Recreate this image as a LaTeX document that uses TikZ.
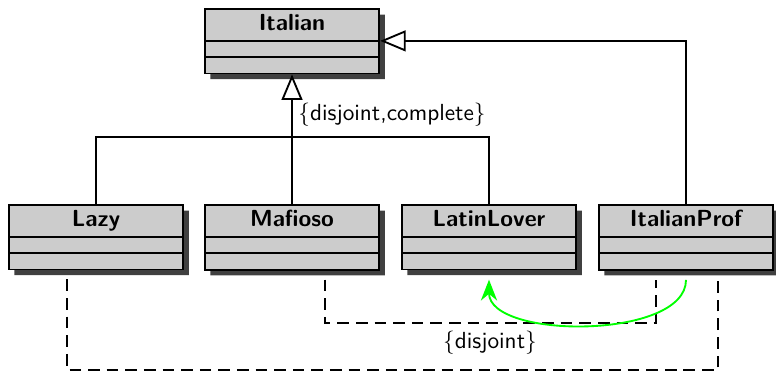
\documentclass[tikz,border=0pt]{standalone}
\usepackage{tikz}
\usetikzlibrary{shapes.multipart,shadows,arrows.meta,calc}

% class box: name in the top part, two empty parts below
\newcommand{\emptypart}{\phantom{\rule{1pt}{2.2pt}}}
\newcommand{\classname}[1]{\rule[-2pt]{0pt}{8.4pt}#1%
  \nodepart{two}\emptypart\nodepart{three}\emptypart}

\begin{document}
\begin{tikzpicture}[x=0.43pt,y=-0.43pt,
    umlclass/.style={rectangle split, rectangle split parts=3, draw, thick,
      fill=gray!40, anchor=north, minimum width=75pt, inner ysep=2pt,
      font=\sffamily\bfseries,
      drop shadow={shadow xshift=2.4pt, shadow yshift=-2.4pt,
        fill=black!75, opacity=1}},
    inherit/.style={thick, -{Triangle[open, length=11pt, width=9pt]}},
    constraint/.style={thick, dash pattern=on 5pt off 3pt},
    note/.style={font=\sffamily}]
  \useasboundingbox (0,0) rectangle (776,371);

  % Classes
  \node[umlclass] (Italian) at (292,8) {\classname{Italian}};
  \node[umlclass] (Lazy) at (96,204) {\classname{Lazy}};
  \node[umlclass] (Mafioso) at (292,204) {\classname{Mafioso}};
  \node[umlclass] (LatinLover) at (489,204) {\classname{LatinLover}};
  \node[umlclass] (ItalianProf) at (686,204) {\classname{ItalianProf}};

  % Generalizations
  \coordinate (bar) at (292,137);
  \draw[inherit] (Mafioso.north) -- (Italian.south);
  \draw[thick] (Lazy.north) |- (bar) -| (LatinLover.north);
  \draw[inherit] (ItalianProf.north) |- (Italian.one split east);
  \node[note] (gencons) at (392,115) {$\{$disjoint,complete$\}$};

  % Constraints
  \coordinate (midline) at (0,323);
  \coordinate (lowline) at (0,370);
  \draw[constraint] ($(Mafioso.south)+(33,9)$) coordinate (mafc)
    -- (mafc |- midline) -| ($(ItalianProf.south)+(-30,9)$);
  \draw[constraint] ($(Lazy.south)+(-29,9)$) coordinate (lazyc)
    -- (lazyc |- lowline) -| ($(ItalianProf.south)+(32,9)$);
  \node[note] (disj) at (490,343) {$\{$disjoint$\}$};
  \draw[thick, green, shorten <=4pt, shorten >=4pt, -{Stealth[length=9pt, width=7pt]}]
    (ItalianProf.south) to[out=-90, in=-90, looseness=0.9] (LatinLover.south);
\end{tikzpicture}
\end{document}
